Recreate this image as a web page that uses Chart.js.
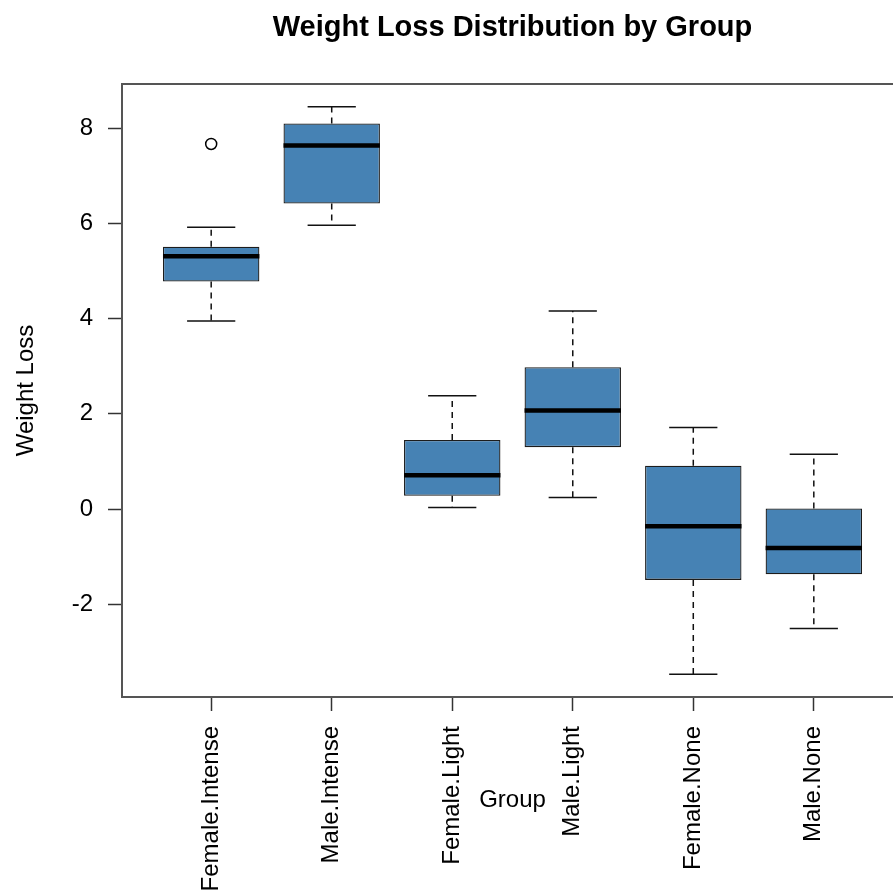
<!DOCTYPE html>
<html><head><meta charset="utf-8">
<script src="https://cdn.jsdelivr.net/npm/chart.js@4"></script>
<style>
html,body{margin:0;padding:0;overflow:hidden;background:#fff;width:893px;height:893px}
#wrap{width:893px;height:893px;overflow:hidden;position:relative;background:#fff}
canvas{display:block}
</style></head>
<body><div id="wrap"><canvas id="c" width="920" height="893"></canvas></div>
<script>
const groups = ['Female.Intense','Male.Intense','Female.Light','Male.Light','Female.None','Male.None'];
const lowerWhisker  = [3.95, 5.96, 0.03, 0.24, -3.47, -2.51];
const lowerQuartile = [4.78, 6.42, 0.28, 1.30, -1.49, -1.37];
const medians       = [5.31, 7.64, 0.71, 2.07, -0.36, -0.82];
const upperQuartile = [5.51, 8.10, 1.45, 2.98, 0.91, 0.01];
const upperWhisker  = [5.92, 8.45, 2.38, 4.16, 1.71, 1.15];
const outlierGroup  = [1];
const outlierValue  = [7.67];
const yTicks = [-2, 0, 2, 4, 6, 8];

const FONT = "'Liberation Sans', Arial, Helvetica, sans-serif";
const BOX_HALF = 0.4, CAP_HALF = 0.2;

const boxData = groups.map((g, i) => ({x: i + 1, y: [lowerQuartile[i], upperQuartile[i]]}));
const medianData = [], whiskerData = [], capData = [];
groups.forEach((g, i) => {
  const x = i + 1;
  medianData.push({x: x - BOX_HALF, y: medians[i]}, {x: x + BOX_HALF, y: medians[i]}, {x: x, y: null});
  whiskerData.push({x: x, y: upperQuartile[i]}, {x: x, y: upperWhisker[i]}, {x: x, y: null},
                   {x: x, y: lowerQuartile[i]}, {x: x, y: lowerWhisker[i]}, {x: x, y: null});
  capData.push({x: x - CAP_HALF, y: upperWhisker[i]}, {x: x + CAP_HALF, y: upperWhisker[i]}, {x: x, y: null},
               {x: x - CAP_HALF, y: lowerWhisker[i]}, {x: x + CAP_HALF, y: lowerWhisker[i]}, {x: x, y: null});
});
const outlierData = outlierGroup.map((g, k) => ({x: g, y: outlierValue[k]}));

const framePlugin = {
  id: 'frame',
  afterDatasetsDraw(chart) {
    const {ctx, chartArea: a} = chart;
    ctx.save();
    ctx.strokeStyle = '#555';
    ctx.lineWidth = 2;
    ctx.strokeRect(a.left, a.top, a.right - a.left, a.bottom - a.top);
    ctx.restore();
  }
};

new Chart(document.getElementById('c'), {
  type: 'bar',
  data: {
    datasets: [
      {type: 'line', label: 'outliers', data: outlierData, showLine: false, pointRadius: 5.5,
       pointBorderWidth: 1.5, pointBorderColor: '#000', pointBackgroundColor: 'rgba(255,255,255,0)', order: 0},
      {type: 'line', label: 'medians', data: medianData, borderColor: '#000', borderWidth: 4.5,
       pointRadius: 0, spanGaps: false, borderCapStyle: 'butt', order: 1},
      {type: 'line', label: 'caps', data: capData, borderColor: '#111', borderWidth: 1.5,
       pointRadius: 0, spanGaps: false, order: 2},
      {type: 'line', label: 'whiskers', data: whiskerData, borderColor: '#111', borderWidth: 1.5,
       borderDash: [6, 5], pointRadius: 0, spanGaps: false, order: 3},
      {type: 'bar', label: 'boxes', data: boxData, backgroundColor: '#4682B4', borderColor: '#1c1c1c',
       borderWidth: 1.3, borderSkipped: false, categoryPercentage: 1, barPercentage: 0.8, order: 10}
    ]
  },
  options: {
    responsive: false, animation: false, devicePixelRatio: 1,
    layout: {padding: {left: 0, right: 17, top: 0, bottom: 0}},
    plugins: {
      legend: {display: false},
      tooltip: {enabled: false},
      title: {display: true, text: 'Weight Loss Distribution by Group', fullSize: false, color: '#000',
              font: {family: FONT, size: 29, weight: 'bold', lineHeight: 1.2}, padding: {top: 11, bottom: 38.2}}
    },
    scales: {
      x: {
        type: 'linear', min: 0.26, max: 6.74, offset: false,
        afterBuildTicks: s => { s.ticks = groups.map((g, i) => ({value: i + 1})); },
        afterFit: s => { s.height = 196; },
        ticks: {autoSkip: false, minRotation: 90, maxRotation: 90, padding: 15, color: '#000',
                font: {family: FONT, size: 24}, callback: v => groups[Math.round(v) - 1]},
        grid: {display: true, offset: false, drawOnChartArea: false, drawTicks: true, tickLength: 14, tickColor: '#333', tickWidth: 1.5},
        border: {display: false},
        title: {display: true, text: 'Group', color: '#000', font: {family: FONT, size: 24}, padding: {top: 0, bottom: 78}}
      },
      y: {
        type: 'linear', min: -3.95, max: 8.93,
        afterBuildTicks: s => { s.ticks = yTicks.map(v => ({value: v})); },
        afterFit: s => { s.width = 122; },
        ticks: {padding: 15, color: '#000', font: {family: FONT, size: 24}, callback: v => String(v)},
        grid: {display: true, drawOnChartArea: false, drawTicks: true, tickLength: 14, tickColor: '#333', tickWidth: 1.5},
        border: {display: false},
        title: {display: true, text: 'Weight Loss', color: '#000', font: {family: FONT, size: 24}, padding: {top: 12, bottom: 0}}
      }
    }
  },
  plugins: [framePlugin]
});
</script>
</body></html>
